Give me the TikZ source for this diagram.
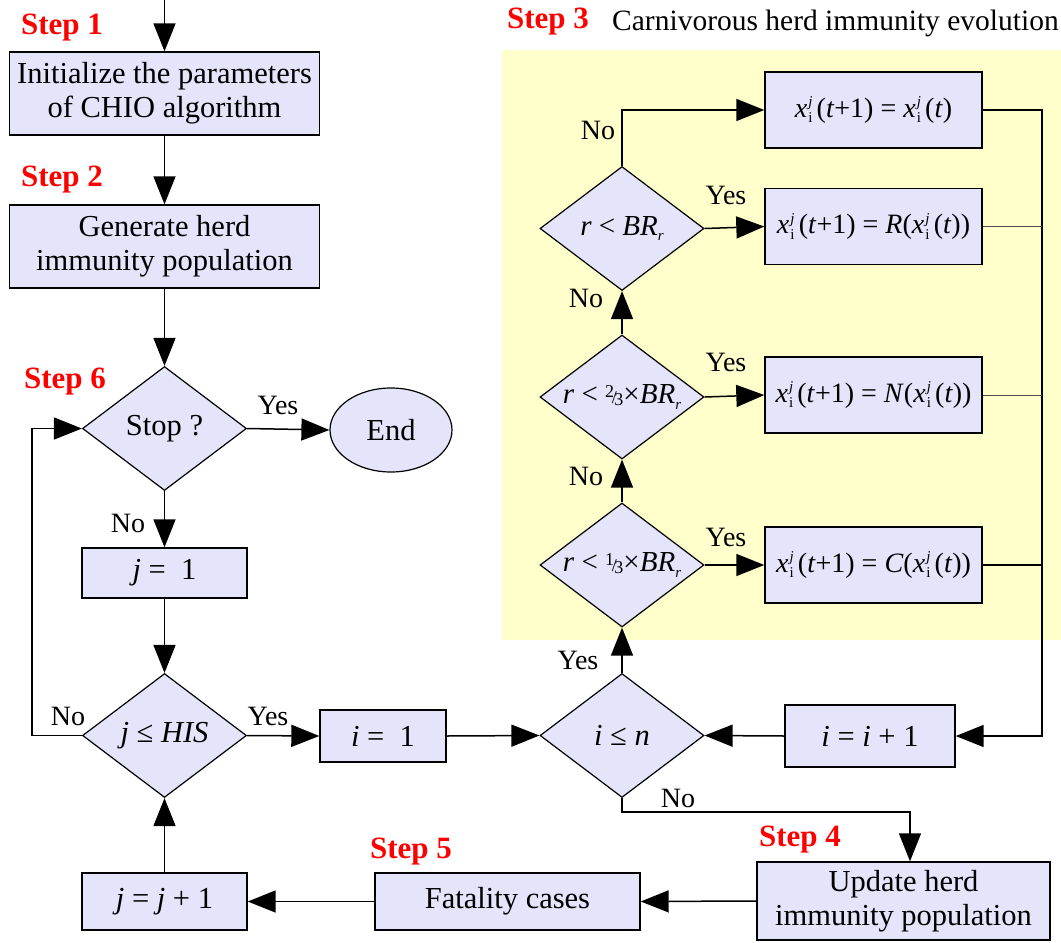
\documentclass[tikz,border=0pt]{standalone}
\usepackage{fontspec}
\setmainfont{Liberation Serif}
\usetikzlibrary{arrows.meta,shapes.geometric}
\definecolor{boxfill}{RGB}{228,228,250}
\definecolor{bgyellow}{RGB}{255,255,204}
\definecolor{stepred}{RGB}{255,0,0}
\newcommand{\smallfs}{\fontsize{15}{15}\selectfont}
\newcommand{\fracfs}{\fontsize{18}{18}\selectfont}
\newcommand{\xij}{\textit{x}\kern0.04em\rlap{\raisebox{-0.45ex}{\smallfs i}}\raisebox{0.8ex}{\smallfs\itshape j}\kern0.15em}
\newcommand{\twothird}{\raisebox{0.5ex}{\fracfs 2}\kern-0.08em{\fracfs/}\kern-0.08em\raisebox{-0.15ex}{\fracfs 3}}
\newcommand{\onethird}{\raisebox{0.5ex}{\fracfs 1}\kern-0.08em{\fracfs/}\kern-0.08em\raisebox{-0.15ex}{\fracfs 3}}
\newcommand{\BRr}{\textit{BR}\raisebox{-0.4ex}{\smallfs\itshape r}}
\begin{document}
\begin{tikzpicture}[x=1pt,y=-1pt,
  mainfs/.style={font=\fontsize{30.5}{34}\selectfont},
  box/.style={draw, fill=boxfill, line width=1.4pt, inner sep=0pt, align=center, mainfs},
  fbox/.style={box, minimum width=217pt, minimum height=76pt, font=\fontsize{28}{30}\selectfont},
  dia/.style={diamond, draw, fill=boxfill, line width=1.2pt, inner sep=0pt, aspect=1.32,
     minimum width=164pt, minimum height=124pt, mainfs},
  dias/.style={dia, font=\fontsize{29}{30}\selectfont},
  steplbl/.style={text=stepred, font=\bfseries\fontsize{31}{34}\selectfont, inner sep=0pt},
  lbl/.style={font=\fontsize{28}{30}\selectfont, inner sep=0pt},
  ln/.style={line width=1.5pt},
  thinln/.style={line width=0.8pt, draw=black!70},
  arr/.style={ln, -{Triangle[length=28pt,width=22pt]}}]
\useasboundingbox (0,0) rectangle (1061,943);
\fill[bgyellow] (502,50) rectangle (1061,640);

% nodes
\node[box, minimum width=310pt, minimum height=83pt] (init) at (164.5,93.5) {Initialize the parameters\\of CHIO algorithm};
\node[box, minimum width=310pt, minimum height=83pt] (gen) at (164.5,246.5) {Generate herd\\immunity population};
\node[dia] (stop) at (164.5,428.5) {Stop ?};
\node[ellipse, draw, fill=boxfill, line width=1.2pt, inner sep=0pt, minimum width=122pt, minimum height=84pt, mainfs] (end) at (391,430) {End};
\node[box, minimum width=165pt, minimum height=50pt] (j1) at (164.5,573) {\textit{j} =\ \ 1};
\node[dia] (his) at (164.5,735.5) {\textit{j} ≤ \textit{HIS}};
\node[box, minimum width=126pt, minimum height=52pt] (i1) at (383,736) {\textit{i} =\ \ 1};
\node[dia] (in) at (622,735.5) {\textit{i} ≤ \textit{n}};
\node[dias] (d1) at (622,565) {\textit{r} < \onethird×\BRr};
\node[dias] (d2) at (622,397) {\textit{r} < \twothird×\BRr};
\node[dias] (d3) at (622,228.5) {\textit{r} < \BRr};
\node[fbox] (fA) at (873.5,110) {\xij(\textit{t}+1) = \xij(\textit{t})};
\node[fbox] (fB) at (873.5,226.5) {\xij(\textit{t}+1) = \textit{R}(\xij(\textit{t}))};
\node[fbox] (fC) at (873.5,395) {\xij(\textit{t}+1) = \textit{N}(\xij(\textit{t}))};
\node[fbox] (fD) at (873.5,565) {\xij(\textit{t}+1) = \textit{C}(\xij(\textit{t}))};
\node[box, minimum width=170pt, minimum height=62pt] (inc) at (870,736) {\textit{i} = \textit{i} + 1};
\node[box, minimum width=293pt, minimum height=78pt] (upd) at (903.5,901) {Update herd\\immunity population};
\node[box, minimum width=265pt, minimum height=57pt] (fat) at (507.5,901.5) {Fatality cases};
\node[box, minimum width=165pt, minimum height=57pt] (jinc) at (164.5,901.5) {\textit{j} = \textit{j} + 1};

\coordinate (top) at (164.5,0);
\coordinate (rc) at (1042,736);

% connectors
\draw[arr] (top) -- (init.north);
\draw[arr] (init.south) -- (gen.north);
\draw[arr] (gen.south) -- (stop.north);
\draw[arr] (stop.east) -- (end.west);
\draw[arr] (stop.south) -- (j1.north);
\draw[arr] (j1.south) -- (his.north);
\draw[arr] (his.west) -- ++(-50,0) |- (stop.west);
\draw[arr] (his.east) -- (i1.west);
\draw[arr] (i1.east) -- (in.west);
\draw[arr] (in.north) -- (d1.south);
\draw[arr] (d1.north) -- (d2.south);
\draw[arr] (d2.north) -- (d3.south);
\draw[arr] (d3.north) |- (fA.west);
\draw[arr] (d3.east) -- (fB.west);
\draw[arr] (d2.east) -- (fC.west);
\draw[arr] (d1.east) -- (fD.west);
\draw[arr] (fA.east) -| (rc) -- (inc.east);
\draw[thinln] (fB.east) -- (fB.east -| rc);
\draw[thinln] (fC.east) -- (fC.east -| rc);
\draw[ln] (fD.east) -- (fD.east -| rc);
\draw[arr] (inc.west) -- (in.east);
\draw[arr] (in.south) -- ++(0,14) -| ([xshift=6.5pt]upd.north);
\draw[arr] (upd.west) -- (fat.east);
\draw[arr] (fat.west) -- (jinc.east);
\draw[arr] (jinc.north) -- (his.south);

% labels
\node[lbl] at (278,405) {Yes};
\node[lbl] at (128,523) {No};
\node[lbl] at (68,716) {No};
\node[lbl] at (268,716) {Yes};
\node[lbl] at (578,660) {Yes};
\node[lbl] at (586,476) {No};
\node[lbl] at (586,298) {No};
\node[lbl] at (598,130) {No};
\node[lbl] at (726,195) {Yes};
\node[lbl] at (726,362) {Yes};
\node[lbl] at (726,537) {Yes};
\node[lbl] at (678,798) {No};

\node[steplbl] at (62,28) {Step 1};
\node[steplbl] at (62,180) {Step 2};
\node[steplbl] at (65,382) {Step 6};
\node[steplbl] at (548,22) {Step 3};
\node[steplbl] at (800,840) {Step 4};
\node[steplbl] at (411,852) {Step 5};
\node[font=\fontsize{29.5}{32}\selectfont, inner sep=0pt, anchor=west] at (612,23) {Carnivorous herd immunity evolution};
\end{tikzpicture}
\end{document}
